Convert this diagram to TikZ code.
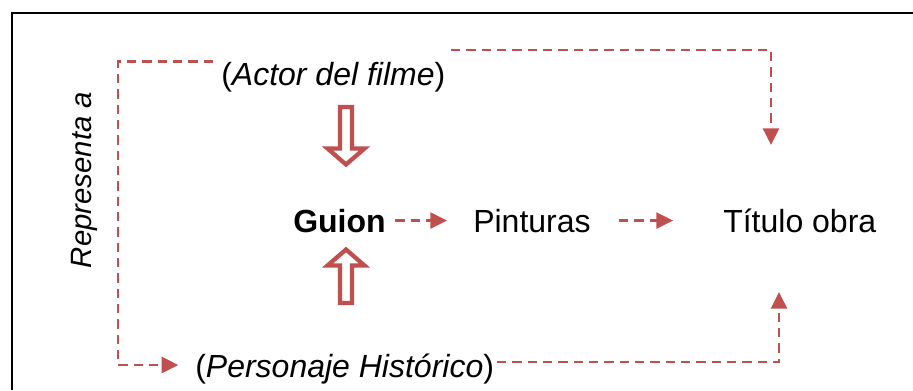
\documentclass[tikz,border=0pt]{standalone}
\usepackage{fontspec}
\setmainfont{Liberation Sans}
\usetikzlibrary{arrows.meta}
\definecolor{linkred}{HTML}{C0504D}
\tikzset{>={Triangle[length=12.5pt,width=12pt]}}
\tikzset{
  dlink/.style={line width=1.9pt,linkred,dash pattern=on 7pt off 4.5pt,->},
  bigarrow/.style={draw=linkred,line width=3.2pt,fill=white,line join=miter},
  lbl/.style={inner sep=0,anchor=base west,font=\fontsize{24}{28}\selectfont}
}

\begin{document}
\begin{tikzpicture}[x=0.75pt,y=-0.75pt]
  \useasboundingbox (0,0) rectangle (913,390);
  % Frame
  \draw[line width=1.5pt] (913,13) -| (12,390);

  % Labels
  \node[lbl] (actor) at (221,85) {(\textit{Actor del filme})};
  \node[lbl] (guion) at (293,232) {\textbf{Guion}};
  \node[lbl] (pinturas) at (473,232) {Pinturas};
  \node[lbl] (titulo) at (723,232) {Título obra};
  \node[lbl] (personaje) at (195,377) {(\textit{Personaje Histórico})};
  \node[lbl,anchor=base,rotate=90,font=\fontsize{22}{26}\selectfont] (representa) at (91,180) {\textit{Representa a}};

  % Free ends
  \coordinate (lft) at (118,365);
  \coordinate (ttop) at (771,145);
  \coordinate (tbot) at (779,292);

  % Dashed links
  \draw[dlink] ([xshift=-6pt]actor.north west) -| (lft)
    -- ([xshift=-12.5pt]personaje.west |- lft);
  \draw[dlink] ([shift={(4pt,8.5pt)}]actor.north east) -| (ttop);
  \draw[dlink] ([shift={(2pt,5pt)}]personaje.east) -| (tbot);
  \draw[dlink,shorten <=7pt,shorten >=19.5pt] (guion.east) -- (guion.east -| pinturas.west);
  \draw[dlink,shorten <=21pt,shorten >=37.5pt] (pinturas.east) -- (pinturas.east -| titulo.west);

  % Hollow arrows
  \draw[bigarrow] (340,107) -- (352,107) -- (352,148.5) -- (364.5,148.5) -- (346,164.5)
    -- (327.5,148.5) -- (340,148.5) -- cycle;
  \draw[bigarrow] (340,303) -- (352,303) -- (352,265.5) -- (364.5,265.5) -- (346,249.5)
    -- (327.5,265.5) -- (340,265.5) -- cycle;
\end{tikzpicture}
\end{document}
